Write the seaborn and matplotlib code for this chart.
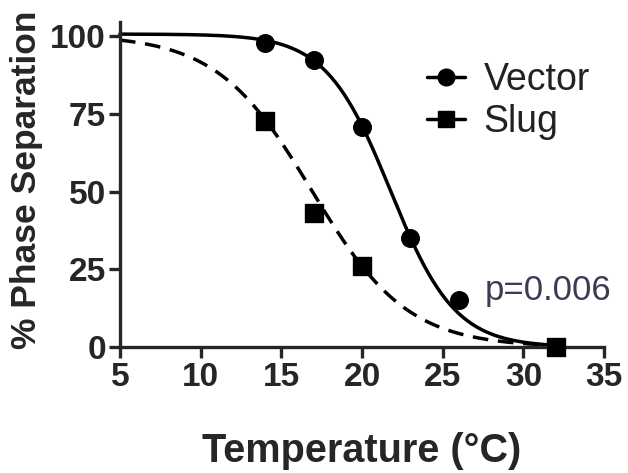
import numpy as np
import pandas as pd
import matplotlib
matplotlib.use("Agg")
import matplotlib.pyplot as plt
from matplotlib.lines import Line2D
import seaborn as sns

# Data points
vector_temp = [14, 17, 20, 23, 26, 32]
vector_pct = [97.7, 92.5, 70.8, 35.2, 15.3, 0.0]
slug_temp = [14, 17, 20, 32]
slug_pct = [72.8, 43.0, 26.0, 0.0]

# Sigmoid fit parameters (estimated from the drawn curves)
vector_fit = dict(top=100.7, bottom=0.0, t50=21.76, slope=2.0)
slug_fit = dict(top=100.5, bottom=0.0, t50=16.9, slope=2.95)

x_ticks = [5, 10, 15, 20, 25, 30, 35]
y_ticks = [0, 25, 50, 75, 100]
p_text = "p=0.006"

sns.set_style("ticks")
plt.rcParams['font.family'] = ['Liberation Sans', 'DejaVu Sans']

fig = plt.figure(figsize=(6.28, 4.73), dpi=100)
ax = fig.add_axes([0.191, 0.266, 0.771, 0.687])

def curve(p, x):
    return p['bottom'] + (p['top'] - p['bottom']) / (1 + np.exp((x - p['t50']) / p['slope']))

xs = np.linspace(5, 32, 300)
df_curve = pd.DataFrame({
    'T': np.concatenate([xs, xs]),
    'Y': np.concatenate([curve(vector_fit, xs), curve(slug_fit, xs)]),
    'group': ['Vector'] * len(xs) + ['Slug'] * len(xs),
})
sns.lineplot(data=df_curve[df_curve.group == 'Vector'], x='T', y='Y', color='black',
             lw=2.5, ax=ax, legend=False, clip_on=False)
sns.lineplot(data=df_curve[df_curve.group == 'Slug'], x='T', y='Y', color='black',
             lw=2.5, ax=ax, legend=False, clip_on=False, dashes=False)
ax.lines[-1].set_linestyle((0, (4.5, 2.8)))

sns.scatterplot(x=vector_temp, y=vector_pct, marker='o', s=160, color='black',
                edgecolor='black', ax=ax, clip_on=False, zorder=5)
sns.scatterplot(x=slug_temp, y=slug_pct, marker='s', s=150, color='black',
                edgecolor='black', ax=ax, clip_on=False, zorder=5)

ax.set_xlim(5, 35)
ax.set_ylim(0, 104.5)
ax.set_xticks(x_ticks)
ax.set_yticks(y_ticks)
ax.tick_params(axis='both', direction='out', length=8, width=2.4, labelsize=24, pad=2)
ax.tick_params(axis='x', pad=3)
for lab in ax.get_xticklabels() + ax.get_yticklabels():
    lab.set_fontweight('bold')
for s in ['left', 'bottom']:
    ax.spines[s].set_linewidth(2.4)
sns.despine(ax=ax)

ax.set_xlabel('Temperature (°C)', fontsize=28.5, fontweight='bold', labelpad=28)
ax.set_ylabel('% Phase Separation', fontsize=25.5, fontweight='bold')
ax.yaxis.set_label_coords(-0.158, 0.514)

handles = [
    Line2D([0], [0], color='black', lw=2.5, marker='o', markersize=12),
    Line2D([0], [0], color='black', lw=2.5, marker='s', markersize=11),
]
leg = ax.legend(handles, ['Vector', 'Slug'], loc='upper left', bbox_to_anchor=(0.565, 0.98),
                frameon=False, fontsize=27, handlelength=1.0, handletextpad=0.5,
                labelspacing=0.15, labelcolor='#222222')

ax.text(27.6, 18.3, p_text, fontsize=25, color='#3b3b55', va='center', ha='left')

fig.savefig('out.png', dpi=100)
